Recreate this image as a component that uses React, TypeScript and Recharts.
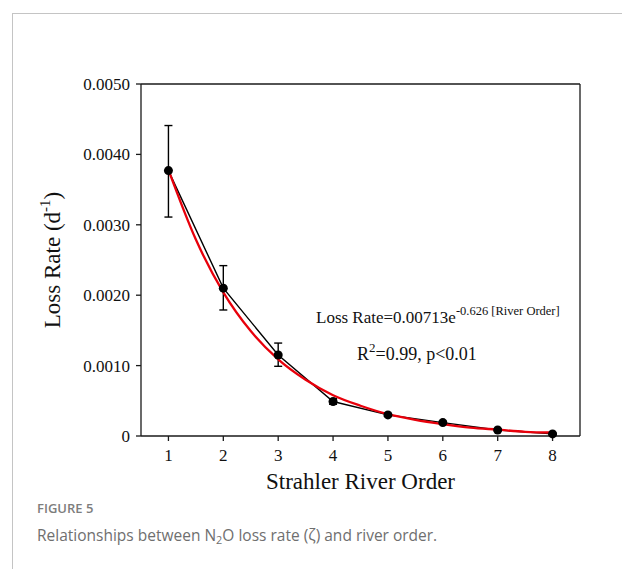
import React from 'react';
import { LineChart, Line, XAxis, YAxis, ErrorBar, Label } from 'recharts';

// Strahler river order vs N2O loss rate (d-1)
const riverOrder = [1, 2, 3, 4, 5, 6, 7, 8];
const lossRate = [0.00377, 0.0021, 0.00115, 0.00049, 0.0003, 0.00019, 0.000085, 0.00003];
const errLow = [0.00066, 0.00031, 0.00016, 0.00004, 0.00002, 0.00002, 0.00001, 0.00001];
const errHigh = [0.00064, 0.00032, 0.00017, 0.00004, 0.00002, 0.00002, 0.00001, 0.00001];

// red fitted curve
const fitOrder = [1, 1.5, 2, 2.5, 3, 3.5, 4, 4.5, 5, 5.5, 6, 6.5, 7, 7.5, 8];
const fitRate = [0.00378, 0.00279, 0.00204, 0.00149, 0.00109, 0.0008, 0.00058, 0.00043, 0.00031, 0.00023, 0.00017, 0.00012, 0.00009, 0.00006, 0.00005];

const xTicks = [1, 2, 3, 4, 5, 6, 7, 8];
const yTicks = [0, 0.001, 0.002, 0.003, 0.004, 0.005];

const obsData = riverOrder.map((x, i) => ({ x, y: lossRate[i], err: [errLow[i], errHigh[i]] }));
const fitData = fitOrder.map((x, i) => ({ x, y: fitRate[i] }));

const serif = '"Liberation Serif", "Times New Roman", serif';
const axisColor = '#1a1a1a';

const renderYLabel = (props: any) => {
    const vb = props.viewBox || { x: 0, y: 0, width: 0, height: 0 };
    const cy = vb.y + vb.height / 2;
    const cx = 60;
    return (
        <text transform={`translate(${cx},${cy}) rotate(-90)`} textAnchor="middle" fontFamily={serif} fontSize={23} fill="#111">
            Loss Rate (d<tspan dy={-10} fontSize={15}>-1</tspan><tspan dy={10}>)</tspan>
        </text>
    );
};

const App: React.FC = () => {
    return (
        <div style={{ position: 'absolute', left: 0, top: 0, width: 622, height: 569, background: '#fff', overflow: 'hidden' }}>
            <div style={{ position: 'absolute', left: 12, top: 13, right: 0, bottom: 0, borderLeft: '1.5px solid #c4c4c4', borderTop: '1.5px solid #c4c4c4' }} />
            <div style={{ position: 'absolute', left: 0, top: 0 }}>
                <LineChart width={622} height={500} margin={{ top: 74, right: 32, left: 61, bottom: 14 }}>
                    <XAxis
                        dataKey="x"
                        type="number"
                        domain={[0.5, 8.5]}
                        ticks={xTicks}
                        height={50}
                        allowDuplicatedCategory={false}
                        stroke={axisColor}
                        strokeWidth={1.3}
                        tickSize={5}
                        tickMargin={8}
                        tick={{ fill: '#111', fontFamily: serif, fontSize: 17 }}
                    >
                        <Label value="Strahler River Order" position="insideBottom" offset={-3} style={{ fill: '#111', fontFamily: serif, fontSize: 23 }} />
                    </XAxis>
                    <XAxis
                        xAxisId="top"
                        orientation="top"
                        type="number"
                        domain={[0.5, 8.5]}
                        ticks={xTicks}
                        height={10}
                        stroke={axisColor}
                        strokeWidth={1.3}
                        tickSize={5}
                        tick={false}
                    />
                    <YAxis
                        type="number"
                        domain={[0, 0.005]}
                        ticks={yTicks}
                        width={80}
                        stroke={axisColor}
                        strokeWidth={1.3}
                        tickSize={5}
                        tickMargin={6}
                        tickFormatter={(v: number) => (v === 0 ? '0' : v.toFixed(4))}
                        tick={{ fill: '#111', fontFamily: serif, fontSize: 17 }}
                    >
                        <Label content={renderYLabel} />
                    </YAxis>
                    <YAxis
                        yAxisId="right"
                        orientation="right"
                        type="number"
                        domain={[0, 0.005]}
                        ticks={yTicks}
                        width={10}
                        stroke={axisColor}
                        strokeWidth={1.3}
                        tickSize={5}
                        tick={false}
                    />
                    <Line
                        data={obsData}
                        dataKey="y"
                        type="linear"
                        stroke="#000"
                        strokeWidth={1.4}
                        dot={false}
                        isAnimationActive={false}
                    >
                        <ErrorBar dataKey="err" direction="y" width={4} stroke="#000" strokeWidth={1.4} />
                    </Line>
                    <Line
                        data={fitData}
                        dataKey="y"
                        type="monotone"
                        stroke="#e8000b"
                        strokeWidth={2.3}
                        dot={false}
                        isAnimationActive={false}
                    />
                    <Line
                        data={obsData}
                        dataKey="y"
                        type="linear"
                        stroke="none"
                        dot={{ r: 4.5, fill: '#000', stroke: '#000', strokeWidth: 0 }}
                        isAnimationActive={false}
                    />
                </LineChart>
            </div>
            <svg width={622} height={569} style={{ position: 'absolute', left: 0, top: 0, pointerEvents: 'none' }}>
                <text x={316} y={323} fontFamily={serif} fontSize={17} fill="#111">
                    Loss Rate=0.00713e<tspan dy={-8} fontSize={12.5}>-0.626 [River Order]</tspan>
                </text>
                <text x={357} y={360} fontFamily={serif} fontSize={18} fill="#111">
                    R<tspan dy={-8} fontSize={13}>2</tspan><tspan dy={8}>=0.99, p&lt;0.01</tspan>
                </text>
            </svg>
            <div style={{ position: 'absolute', left: 37, top: 499, fontFamily: '"Open Sans", sans-serif', fontWeight: 600, fontSize: 13, color: '#7d7d7d' }}>
                FIGURE 5
            </div>
            <div style={{ position: 'absolute', left: 37, top: 524, fontFamily: '"Open Sans", sans-serif', fontWeight: 400, fontSize: 15.5, color: '#6f6f6f' }}>
                Relationships between N<sub style={{ fontSize: '0.7em', verticalAlign: '-0.25em' }}>2</sub>O loss rate (ζ) and river order.
            </div>
        </div>
    );
};

export default App;
